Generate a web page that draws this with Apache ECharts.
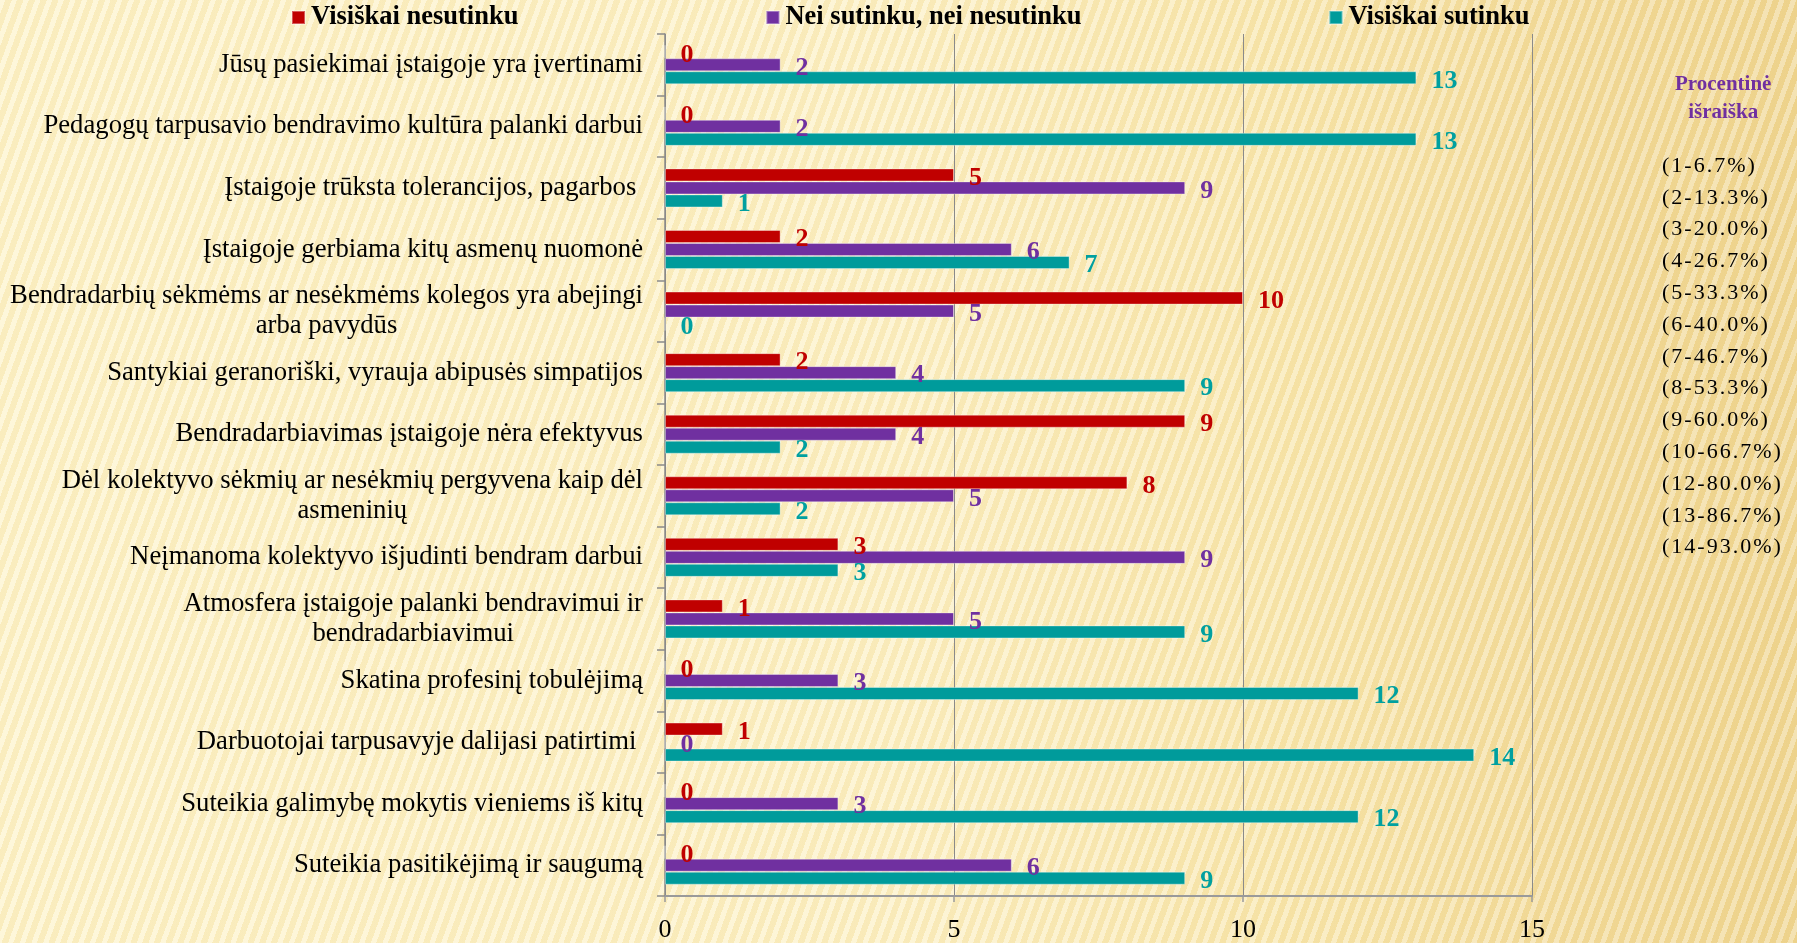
<!DOCTYPE html>
<html>
<head>
<meta charset="utf-8">
<script src="https://cdn.jsdelivr.net/npm/echarts@6/dist/echarts.min.js"></script>
<style>
  html, body { margin: 0; padding: 0; }
  body {
    width: 1797px; height: 943px; overflow: hidden;
    background:
      repeating-linear-gradient(110deg, rgba(255,255,255,0.32) 0px, rgba(255,255,255,0.32) 5px, rgba(225,190,110,0.12) 5px, rgba(225,190,110,0.12) 11px),
      linear-gradient(90deg, #fdf3c9 0%, #fcf0c3 50%, #f8e6ab 72%, #f2da98 88%, #efd58f 100%);
  }
  #chart { width: 1797px; height: 943px; }
</style>
</head>
<body>
<div id="chart"></div>
<script>
// ---- data ----
const categories = [
  "Jūsų pasiekimai įstaigoje yra įvertinami",
  "Pedagogų tarpusavio bendravimo kultūra palanki darbui",
  "Įstaigoje trūksta tolerancijos, pagarbos ",
  "Įstaigoje gerbiama kitų asmenų nuomonė",
  "Bendradarbių sėkmėms ar nesėkmėms kolegos yra abejingi\narba pavydūs",
  "Santykiai geranoriški, vyrauja abipusės simpatijos",
  "Bendradarbiavimas įstaigoje nėra efektyvus",
  "Dėl kolektyvo sėkmių ar nesėkmių pergyvena kaip dėl\nasmeninių",
  "Neįmanoma kolektyvo išjudinti bendram darbui",
  "Atmosfera įstaigoje palanki bendravimui ir\nbendradarbiavimui",
  "Skatina profesinį tobulėjimą",
  "Darbuotojai tarpusavyje dalijasi patirtimi ",
  "Suteikia galimybę mokytis vieniems iš kitų",
  "Suteikia pasitikėjimą ir saugumą"
];
const seriesNames = ["Visiškai nesutinku", "Nei sutinku, nei nesutinku", "Visiškai sutinku"];
const disagree = [0, 0, 5, 2, 10, 2, 9, 8, 3, 1, 0, 1, 0, 0];
const neutral  = [2, 2, 9, 6, 5, 4, 4, 5, 9, 5, 3, 0, 3, 6];
const agree    = [13, 13, 1, 7, 0, 9, 2, 2, 3, 9, 12, 14, 12, 9];
const xTicks = [0, 5, 10, 15];
const sideTitle = ["Procentinė", "išraiška"];
const percentLabels = ["(1-6.7%)", "(2-13.3%)", "(3-20.0%)", "(4-26.7%)", "(5-33.3%)", "(6-40.0%)",
  "(7-46.7%)", "(8-53.3%)", "(9-60.0%)", "(10-66.7%)", "(12-80.0%)", "(13-86.7%)", "(14-93.0%)"];

// ---- styles ----
const colors = ["#C00000", "#7030A0", "#009B9B"];
const labelColors = ["#C00000", "#7030A0", "#00A0A0"];
const serif = "'Liberation Serif', 'Times New Roman', serif";

const chart = echarts.init(document.getElementById('chart'), null, { renderer: 'canvas' });

const allSeries = [disagree, neutral, agree].map((vals, i) => ({
  name: seriesNames[i],
  type: 'bar',
  data: vals,
  barWidth: 13,
  barGap: '0%',
  itemStyle: { color: colors[i], borderColor: 'rgba(255,255,255,0.35)', borderWidth: 1 },
  label: {
    show: true, position: 'right', distance: 15,
    color: labelColors[i], fontFamily: serif, fontWeight: 'bold', fontSize: 26,
    offset: [0, 3]
  },
  emphasis: { disabled: true },
  animation: false
}));

function spaced(s) {
  return s.split('').map(ch => '{c|' + ch + '}').join('');
}

const graphics = [];
graphics.push({
  type: 'text', left: 1675, top: 71,
  style: {
    text: sideTitle.join('\n'), fill: '#7030A0',
    font: "bold 21px " + serif, textAlign: 'center', lineHeight: 28
  }
});
percentLabels.forEach((t, i) => {
  graphics.push({
    type: 'text', x: 1661, y: 166 + i * 31.8,
    style: {
      text: spaced(t), textVerticalAlign: 'middle', verticalAlign: 'middle',
      rich: { c: { fontFamily: serif, fontSize: 22, color: '#111', padding: [0, 1, 0, 1] } }
    }
  });
});

chart.setOption({
  backgroundColor: 'transparent',
  animation: false,
  color: colors,
  legend: {
    data: seriesNames,
    left: 291, top: 4, padding: 0,
    itemGap: 247, itemWidth: 13, itemHeight: 13,
    icon: 'rect',
    textStyle: { fontFamily: serif, fontWeight: 'bold', fontSize: 26.5, color: '#000', padding: [0, 0, 0, 1] },
    selectedMode: false
  },
  grid: { left: 665, right: 265, top: 34, bottom: 42, containLabel: false },
  xAxis: {
    type: 'value', min: xTicks[0], max: xTicks[xTicks.length - 1], interval: 5,
    axisLine: { show: true, lineStyle: { color: '#9a9a9a', width: 2 } },
    axisTick: { show: true, length: 6, lineStyle: { color: '#9a9a9a', width: 1.5 } },
    splitLine: { show: true, lineStyle: { color: '#8a8a8a', width: 1 } },
    axisLabel: { fontFamily: serif, fontSize: 26, color: '#000', margin: 21 }
  },
  yAxis: {
    type: 'category', data: categories, inverse: true,
    axisLine: { show: true, lineStyle: { color: '#8a8a8a', width: 1.5 } },
    axisTick: { show: true, length: 8, lineStyle: { color: '#8a8a8a', width: 1.5 } },
    axisLabel: {
      margin: 22, color: '#000',
      formatter: v => v.split('\n').map(l => '{a|' + l + '}').join('\n'),
      rich: { a: { fontFamily: serif, fontSize: 26.7, color: '#000', align: 'center', lineHeight: 30 } }
    }
  },
  series: allSeries,
  graphic: graphics
});
</script>
</body>
</html>
